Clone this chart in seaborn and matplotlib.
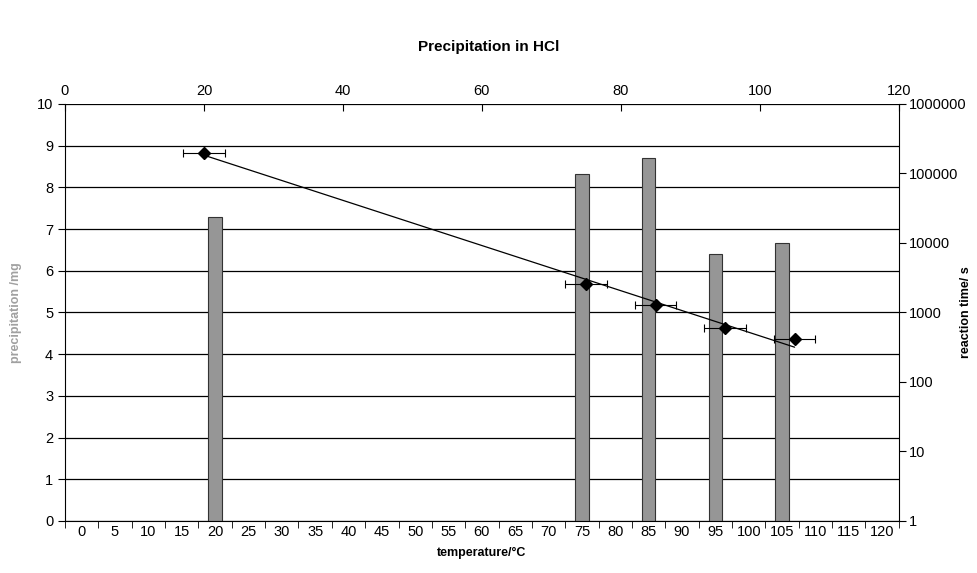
import numpy as np
import pandas as pd
import matplotlib
matplotlib.use("Agg")
import matplotlib.pyplot as plt
import seaborn as sns

sns.set_style("white")
plt.rcParams["font.family"] = ["Liberation Sans", "DejaVu Sans"]
plt.rcParams["text.color"] = "black"
plt.rcParams["xtick.color"] = "black"
plt.rcParams["ytick.color"] = "black"
plt.rcParams["axes.labelcolor"] = "black"

# data
categories = [str(c) for c in range(0, 125, 5)]
bar_temps = ["20", "75", "85", "95", "105"]
precipitation = [7.28, 8.31, 8.71, 6.41, 6.67]

temps = np.array([20, 75, 85, 95, 105])
reaction_time = np.array([200000, 2600, 1270, 605, 412])
temp_err = 3

fig = plt.figure(figsize=(9.77, 5.73), dpi=100)
pos = [0.0665, 0.0908, 0.8535, 0.7277]
ax = fig.add_axes(pos)

bars = pd.DataFrame({"temp": bar_temps, "prec": precipitation})
sns.barplot(data=bars, x="temp", y="prec", order=categories, color="#969696",
            edgecolor="#333333", linewidth=0.8, width=0.4, saturation=1, ax=ax)
ax.set_xlim(-0.5, len(categories) - 0.5)
ax.set_ylim(0, 10)
ax.set_yticks(range(0, 11))
ax.yaxis.grid(True, color="black", linewidth=0.9)
ax.set_axisbelow(True)
ax.tick_params(axis="x", length=0, pad=3, labelsize=10.5)
ax.set_xticks(np.arange(-0.5, len(categories)), minor=True)
ax.tick_params(axis="x", which="minor", length=5, direction="out", bottom=True)
ax.tick_params(axis="y", length=5, direction="out", left=True, labelsize=10.5)
ax.set_xlabel("temperature/°C", fontsize=9, fontweight="bold", labelpad=6)
ax.set_ylabel("precipitation /mg", fontsize=9, fontweight="bold", color="#a0a0a0")
ax.yaxis.set_label_coords(-0.052, 0.5)
for s in ["top", "right"]:
    ax.spines[s].set_visible(False)
for s in ["left", "bottom"]:
    ax.spines[s].set_color("black")

# reaction time on top/right axes
ax2 = fig.add_axes(pos, facecolor="none")
ax2.set_yscale("log")
ax2.set_xlim(0, 120)
ax2.set_ylim(1, 1e6)
ax2.xaxis.tick_top()
ax2.yaxis.tick_right()
ax2.yaxis.set_label_position("right")
ax2.set_xticks(range(0, 121, 20))
ax2.set_yticks([10 ** k for k in range(7)])
ax2.set_yticklabels([str(10 ** k) for k in range(7)])
ax2.minorticks_off()
ax2.tick_params(axis="x", length=5, direction="in", labelsize=10.5, pad=4)
ax2.tick_params(axis="y", length=5, direction="out", labelsize=10.5, pad=2)
for s in ["left", "bottom", "top"]:
    ax2.spines[s].set_visible(False)
ax2.spines["right"].set_color("black")
ax2.set_ylabel("reaction time/ s", fontsize=9, fontweight="bold")
ax2.yaxis.set_label_coords(1.073, 0.5)

# exponential trend line
slope, icept = np.polyfit(temps, np.log10(reaction_time), 1)
xx = np.linspace(temps.min(), temps.max(), 100)
sns.lineplot(x=xx, y=10 ** (slope * xx + icept), color="black", linewidth=0.9, ax=ax2)
ax2.errorbar(temps, reaction_time, xerr=temp_err, fmt="D", color="black",
             markersize=6, capsize=3, elinewidth=0.8, capthick=0.8)

fig.suptitle("Precipitation in HCl", fontsize=11, fontweight="bold", y=0.93)
fig.savefig("out.png", dpi=100)
